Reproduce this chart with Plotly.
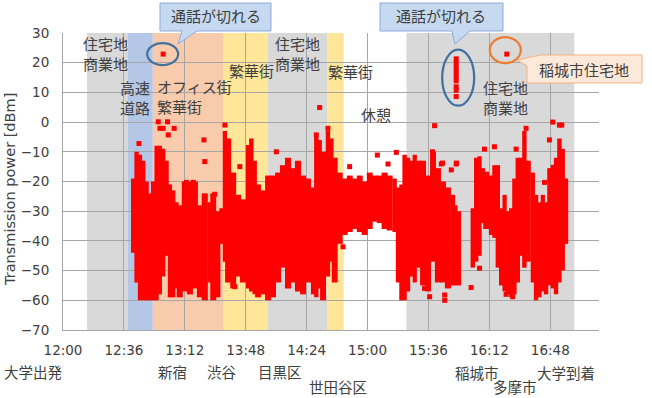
import plotly.graph_objects as go
import pandas as pd

BASE = pd.Timestamp("2021-04-01 12:00:00")

# ---------------- data (minutes after 12:00, dBm) ----------------
# dense measurement envelope: time, upper edge, lower edge
env_min = [41.5, 43.5, 45.5, 47.4, 49.4, 51.4, 53.3, 55.3, 57.2, 59.2, 61.2, 63.2, 65.1, 67.1, 69.0,
           72.0, 75.0, 78.0, 80.9, 83.8, 86.8, 88.8, 91.7, 93.7, 95.7, 97.6, 100.6, 103.5, 106.4,
           109.4, 111.3, 113.3, 115.3, 118.2, 121.2, 124.1, 127.1, 130.0, 133.0, 136.0, 138.9,
           141.9, 144.8, 147.8, 149.7, 151.7, 153.7, 156.6, 158.6, 160.6, 163.5, 166.5, 169.5,
           172.4, 175.4, 178.3, 181.3, 184.2, 187.2, 190.1, 193.1, 196.0, 198.0, 200.0, 201.9,
           203.9, 205.9, 207.9, 209.8, 212.8, 215.7, 218.7, 221.6, 224.6, 227.5, 230.5, 232.4,
           233.4, 242.2, 244.2, 246.2, 248.1, 250.1, 253.0, 255.0, 257.0, 259.0, 261.0, 262.9,
           264.9, 266.8, 268.8, 270.8, 272.7, 274.7, 277.7, 279.6, 281.6, 283.6, 285.5, 287.5,
           289.5, 291.4, 293.4, 295.4, 297.3]
env_top = [-19, -10, -11, -13, -20, -24, -20, -8, -8, -9, -13, -21, -23, -27, -28,
           -20, -20, -20, -28, -24, -27, -24, -30, -29, -3, -5.5, -17, -24.5, -26,
           -7.7, -5.5, -13, -21, -23, -18, -18, -17, -14.5, -12, -15.5, -13,
           -18, -19, -22, -5, -6, -10, -3, -5.5, -12, -17, -19, -18,
           -19, -18, -20, -17, -18, -18, -17, -18, -19, -22, -21, -11,
           -12, -13, -11, -13, -13, -18, -10, -15.5, -20, -22, -24.5, -28,
           -30, -29, -12, -11.5, -15.5, -16.7, -18, -14.5, -14.5, -29, -24.5, -30,
           -29, -19, -12, -12, -3, -13, -17, -24.5, -27, -24.5, -27, -15.5,
           -14.4, -12, -5.5, -9, -19]
env_low = [-44, -54, -60, -60, -60, -60, -60, -60, -58, -52, -45, -59, -59, -56, -59,
           -57, -58, -56, -59, -60, -54, -60, -59, -41, -47, -54, -56, -52, -54,
           -56, -57, -58, -59, -58, -60, -59, -54, -49, -56, -54, -57,
           -58, -54, -58, -59, -56, -60, -52, -47, -54, -41, -38, -37,
           -36, -37, -38, -36, -33.5, -34, -36, -36.5, -37, -54, -60, -60,
           -57, -52, -54, -49, -55, -57, -47, -54, -54, -56, -55, -45,
           -55, -49, -47, -45, -34, -36, -38, -39, -49, -55, -57, -58,
           -59, -58, -54, -45, -49, -47, -54, -60, -59, -57, -58, -55,
           -56, -58, -54, -50, -41]

# isolated measurements
pt_min = [44.9, 56.3, 61.8, 57.3, 59.2, 65.7, 62.2, 83.3, 83.8, 73.0, 77.0, 89.7, 101.6, 95.7,
          104.5, 126.1, 151.7, 149.7, 156.6, 169.4, 165.5, 185.8, 197.0, 192.1, 219.6, 223.6,
          232.4, 229.5, 213.7, 216.7, 225.6, 225.6, 249.1, 255.0, 267.8, 273.7, 289.5,
          293.4, 294.8, 287.5, 284.6, 241.2, 246.2, 261.9, 265.8, 224.3, 232.6, 218.4]
pt_val = [-7.2, 0.1, 0.1, -2.1, -2.1, -2.1, -4.3, -6, -13.3, -20.3, -20.3, -24.3, -55.4, -1,
          -15, -10, 4.9, -4.3, -2.1, -15, -42, -11.1, -10.2, -14.1, -1.2, -14.1,
          -14.1, -16.1, -56, -58.8, -58.2, -60, -9.1, -8.3, -9.1, -2.1, 0,
          -1, -1, -6, -20.3, -55.7, -49.2, -58, -58.8, -13.8, -13.8, -10]

# call-drop measurements
drop1_min = [59.2]
drop1_val = [22.9]
drop2_min = [232.4] * 9
drop2_val = [21.3, 19.8, 18.3, 16.8, 15.3, 13.9, 11.9, 10.7, 8.6]
drop3_min = [262.3]
drop3_val = [22.9]

# area bands (minutes after 12:00)
band_start = [14.2, 38.4, 53.1, 95.0, 121.0, 156.4, 203.0]
band_end = [38.4, 53.1, 95.0, 121.0, 156.4, 165.9, 302.2]
band_kind = ["gray", "blue", "peach", "yellow", "gray", "yellow", "gray"]

tick_min = [0, 36, 72, 108, 144, 180, 216, 252, 288]
tick_labels = ["12:00", "12:36", "13:12", "13:48", "14:24", "15:00", "15:36", "16:12", "16:48"]

place_labels = ["大学出発", "新宿", "渋谷", "目黒区", "世田谷区", "稲城市", "多摩市", "大学到着"]
area_labels = ["住宅地<br>商業地", "高速<br>道路", "オフィス街<br>繁華街", "繁華街",
               "住宅地<br>商業地", "繁華街", "休憩", "住宅地<br>商業地"]

# ---------------- styling ----------------
BAND_COL = {"gray": "#d9d9d9", "blue": "#b4c7e7", "peach": "#f8cbad", "yellow": "#ffe699"}
RED = "#ff0000"
TXT = "#404040"
JP = "Noto Sans CJK JP"
LAT = "DejaVu Sans, Noto Sans CJK JP"

L, R, T, B = 63, 599, 33, 330


def px(x):
    return (x - L) / (R - L)


def py(y):
    return (B - y) / (B - T)


def tt(m):
    return BASE + pd.Timedelta(minutes=m)


def tlist(ms):
    return [tt(m) for m in ms]


fig = go.Figure()

# dense measurement columns
widths = []
for i in range(len(env_min)):
    if i < len(env_min) - 1:
        w = min(env_min[i + 1] - env_min[i], 3.2)
    else:
        w = 2.0
    widths.append((w + 0.6) * 60000)
fig.add_trace(go.Bar(
    x=tlist(env_min), y=[t - l for t, l in zip(env_top, env_low)], base=env_low,
    width=widths, marker=dict(color=RED, line=dict(width=0)), showlegend=False,
    hoverinfo="skip"))

for xs, ys in [(pt_min, pt_val), (drop1_min, drop1_val), (drop2_min, drop2_val), (drop3_min, drop3_val)]:
    fig.add_trace(go.Scatter(
        x=tlist(xs), y=ys, mode="markers",
        marker=dict(symbol="square", size=5, color=RED, line=dict(width=0)),
        showlegend=False, hoverinfo="skip"))

shapes = []
for s, e, k in zip(band_start, band_end, band_kind):
    shapes.append(dict(type="rect", xref="x", yref="y", x0=tt(s), x1=tt(e), y0=-70, y1=30,
                       fillcolor=BAND_COL[k], line=dict(width=0), layer="below"))

# circles around dropped calls
mid2 = (max(drop2_val) + min(drop2_val)) / 2
shapes.append(dict(type="circle", xref="x", yref="y", xsizemode="pixel", ysizemode="pixel",
                   xanchor=tt(drop1_min[0]), yanchor=drop1_val[0], x0=-16, x1=15, y0=-11, y1=11,
                   line=dict(color="#41719c", width=2.2)))
shapes.append(dict(type="circle", xref="x", yref="y", xsizemode="pixel", ysizemode="pixel",
                   xanchor=tt(drop2_min[0]), yanchor=mid2, x0=-14, x1=18, y0=-28, y1=28,
                   line=dict(color="#41719c", width=2.2)))
shapes.append(dict(type="circle", xref="x", yref="y", xsizemode="pixel", ysizemode="pixel",
                   xanchor=tt(drop3_min[0]), yanchor=drop3_val[0], x0=-17, x1=14, y0=-9, y1=17,
                   line=dict(color="#ed7d31", width=2.2)))


def poly(pts):
    return "M " + " L ".join(f"{px(a):.5f},{py(b):.5f}" for a, b in pts) + " Z"


shapes.append(dict(type="path", xref="paper", yref="paper",
                   path=poly([(160, 3), (271, 3), (271, 31), (197, 31), (178, 44), (182, 31), (160, 31)]),
                   fillcolor="#c5d9f1", line=dict(color="#8eaadb", width=1)))
shapes.append(dict(type="path", xref="paper", yref="paper",
                   path=poly([(380, 3), (503, 3), (503, 31), (470, 31), (455, 44), (452, 31), (380, 31)]),
                   fillcolor="#c5d9f1", line=dict(color="#8eaadb", width=1)))
shapes.append(dict(type="path", xref="paper", yref="paper",
                   path=poly([(517, 60), (540, 55), (642, 55), (642, 83), (527, 83), (527, 66)]),
                   fillcolor="#fde9d9", line=dict(color="#f4b183", width=1)))

ann = []


def add_text(text, x, y, size=15, xanchor="center", align="center"):
    ann.append(dict(text=text, xref="paper", yref="paper", x=px(x), y=py(y), showarrow=False,
                    xanchor=xanchor, yanchor="middle", align=align,
                    font=dict(family=JP, size=size, color=TXT)))


add_text("通話が切れる", 216, 16)
add_text("通話が切れる", 441, 16)
add_text("稲城市住宅地", 584, 69)

area_pos = [(105, 53), (135, 97), (155, 96), (251, 70), (297, 53), (350, 71), (376, 114), (505, 97)]
for lab, (x, y) in zip(area_labels, area_pos):
    if lab.startswith("オフィス"):
        add_text(lab, x, y, xanchor="left", align="left")
    else:
        add_text(lab, x, y)

place_pos = [(33, 371), (172, 371), (221, 371), (280, 371), (338, 386), (477, 372), (515, 386), (566, 372)]
for lab, (x, y) in zip(place_labels, place_pos):
    add_text(lab, x, y, size=14.5)

ann.append(dict(text="Transmission power [dBm]", xref="paper", yref="paper", x=px(10), y=py(190),
                showarrow=False, textangle=-90, xanchor="center", yanchor="middle",
                font=dict(family=LAT, size=14.5, color=TXT)))

fig.update_layout(
    width=652, height=398, margin=dict(l=L, r=652 - R, t=T, b=398 - B),
    paper_bgcolor="white", plot_bgcolor="white", showlegend=False,
    shapes=shapes, annotations=ann, barmode="overlay",
    xaxis=dict(type="date", range=[tt(0), tt(316.8)], tickvals=tlist(tick_min), ticktext=tick_labels,
               showgrid=True, gridcolor="#a6a6a6", gridwidth=1, showline=True, linecolor="#a6a6a6",
               zeroline=False, ticks="", ticklabelstandoff=8,
               tickfont=dict(family=LAT, size=13.5, color=TXT)),
    yaxis=dict(range=[-70, 30], dtick=10, tick0=-70, showgrid=True, gridcolor="#a6a6a6", gridwidth=1,
               showline=True, linecolor="#a6a6a6", zeroline=False, ticks="", ticklabelstandoff=10,
               tickfont=dict(family=LAT, size=13.5, color=TXT)),
)

fig.write_html("out.html")
